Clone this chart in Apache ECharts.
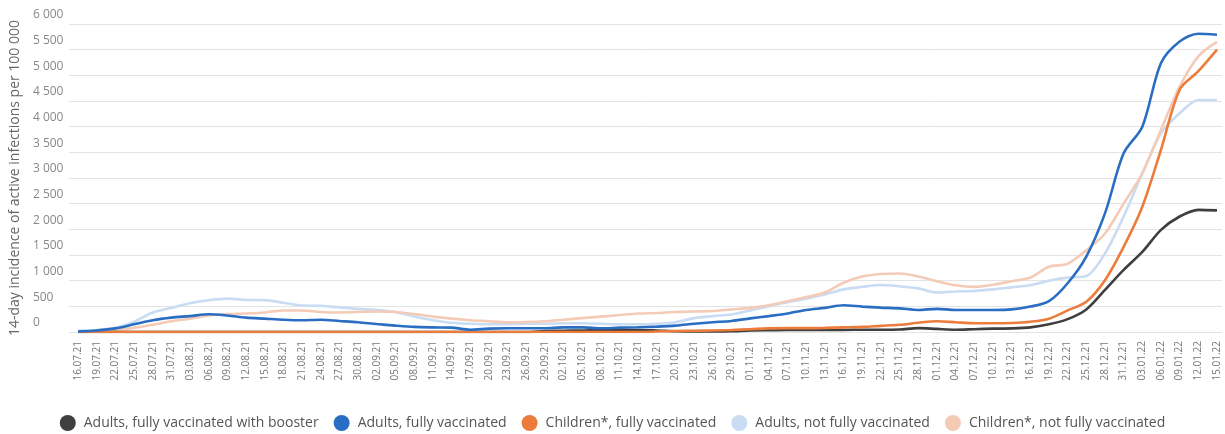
<!DOCTYPE html>
<html>
<head>
<meta charset="utf-8">
<script src="https://cdn.jsdelivr.net/npm/echarts@6/dist/echarts.min.js"></script>
<style>
html,body{margin:0;padding:0;background:#fff;}
#chart{width:1225px;height:434px;}
</style>
</head>
<body>
<div id="chart"></div>
<script>
const categories = ["16.07.21","19.07.21","22.07.21","25.07.21","28.07.21","31.07.21","03.08.21","06.08.21","09.08.21","12.08.21","15.08.21","18.08.21","21.08.21","24.08.21","27.08.21","30.08.21","02.09.21","05.09.21","08.09.21","11.09.21","14.09.21","17.09.21","20.09.21","23.09.21","26.09.21","29.09.21","02.10.21","05.10.21","08.10.21","11.10.21","14.10.21","17.10.21","20.10.21","23.10.21","26.10.21","29.10.21","01.11.21","04.11.21","07.11.21","10.11.21","13.11.21","16.11.21","19.11.21","22.11.21","25.11.21","28.11.21","01.12.21","04.12.21","07.12.21","10.12.21","13.12.21","16.12.21","19.12.21","22.12.21","25.12.21","28.12.21","31.12.21","03.01.22","06.01.22","09.01.22","12.01.22","15.01.22"];

const seriesNames = ["Adults, fully vaccinated with booster","Adults, fully vaccinated","Children*, fully vaccinated","Adults, not fully vaccinated","Children*, not fully vaccinated"];

const adultsBooster = [0,0,0,0,0,0,0,0,0,0,0,0,0,0,0,0,0,0,0,0,0,0,0,0,0,20,25,30,40,40,40,30,15,10,10,15,30,35,40,40,40,40,45,45,50,75,60,45,55,65,70,90,150,250,440,820,1210,1560,1990,2250,2380,2370];

const adultsFull = [10,30,70,150,230,280,310,345,320,280,260,240,230,240,215,190,155,125,100,90,85,45,65,72,72,72,90,90,72,85,92,105,125,160,190,215,265,310,360,430,470,520,495,475,460,430,450,430,430,430,440,495,600,950,1470,2310,3480,4000,5240,5660,5810,5790];

const childrenFull = [0,0,0,0,0,0,0,0,0,0,0,0,0,0,0,0,0,0,0,0,0,0,0,0,0,0,0,0,0,0,0,10,20,25,30,40,55,70,75,75,80,90,100,120,140,180,210,190,170,170,175,200,260,420,590,1010,1660,2440,3550,4720,5080,5500];

const adultsNotFull = [30,40,80,200,380,470,560,620,650,625,620,570,515,510,480,450,430,390,300,230,180,160,150,150,160,160,170,170,160,150,150,160,190,270,310,340,420,500,580,650,730,830,880,915,890,850,770,790,800,830,870,910,1000,1060,1090,1530,2250,3090,3870,4260,4520,4520];

const childrenNotFull = [0,10,40,80,140,210,260,320,350,360,380,420,420,390,380,390,400,390,350,300,260,230,210,190,195,210,240,270,300,330,360,370,390,400,410,440,470,520,600,680,770,960,1080,1130,1140,1080,990,910,880,920,990,1060,1270,1330,1590,1920,2500,3090,3940,4780,5370,5650];

const colors = ["#3f3f3f","#2a6ec3","#ec7c3c","#c9dcf3","#f4cbb6"];

const fmt = v => String(v).replace(/\B(?=(\d{3})+(?!\d))/g, ' ');
const FONT = "'Open Sans', sans-serif";

const chart = echarts.init(document.getElementById('chart'), null, {renderer:'canvas'});

function line(name, data, color, z) {
  return {
    name, type:'line', data, xAxisIndex:1, yAxisIndex:1,
    smooth:0.3, symbol:'none', z,
    lineStyle:{color, width:2.6},
    itemStyle:{color}
  };
}

chart.setOption({
  animation:false,
  textStyle:{fontFamily:FONT},
  grid:[
    {left:68, right:3, top:24, bottom:102},
    {left:78, right:8, top:24, bottom:102}
  ],
  legend:{
    top:410, left:'center', padding:[5,5,5,5],
    icon:'circle', itemWidth:16, itemHeight:16, itemGap:15,
    textStyle:{color:'#555', fontSize:14, fontFamily:FONT, padding:[0,0,0,3]},
    data:seriesNames
  },
  xAxis:[
    {type:'value', gridIndex:0, min:0, max:1, show:false},
    {type:'category', gridIndex:1, data:categories, boundaryGap:false,
      axisLine:{show:false}, axisTick:{show:false},
      axisLabel:{rotate:90, interval:0, fontSize:10, color:'#777', margin:9, fontFamily:FONT}}
  ],
  yAxis:[
    {type:'value', gridIndex:0, min:0, max:6000, interval:500,
      name:'14-day incidence of active infections per 100 000',
      nameLocation:'middle', nameGap:44, nameRotate:90,
      nameTextStyle:{color:'#666', fontSize:14, fontFamily:FONT},
      axisLine:{show:false}, axisTick:{show:false},
      axisLabel:{formatter:fmt, align:'left', margin:36, verticalAlign:'bottom', padding:[0,0,3,0], fontSize:12, color:'#888', fontFamily:FONT},
      splitLine:{lineStyle:{color:'#e3e3e3', width:1}}},
    {type:'value', gridIndex:1, min:0, max:6000, interval:500, show:false, splitLine:{show:false}}
  ],
  series:[
    line(seriesNames[3], adultsNotFull, colors[3], 2),
    line(seriesNames[4], childrenNotFull, colors[4], 2),
    line(seriesNames[0], adultsBooster, colors[0], 3),
    line(seriesNames[2], childrenFull, colors[2], 4),
    line(seriesNames[1], adultsFull, colors[1], 5)
  ]
});
</script>
</body>
</html>
